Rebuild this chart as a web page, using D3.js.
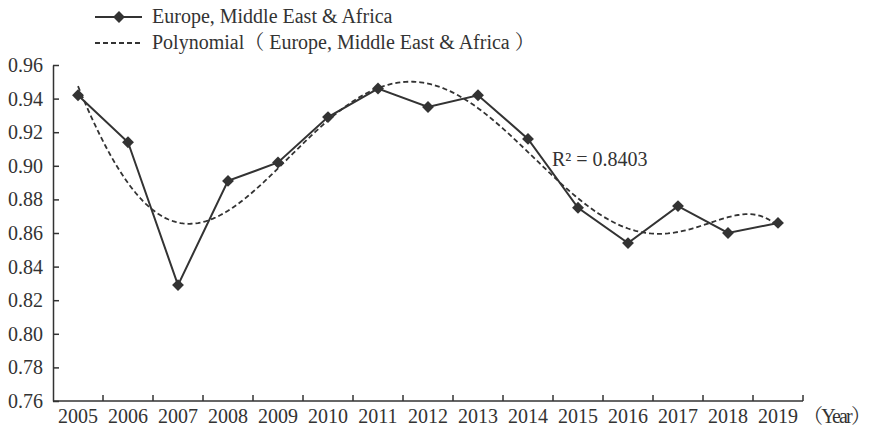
<!DOCTYPE html>
<html><head><meta charset="utf-8">
<script src="https://cdn.jsdelivr.net/npm/d3@7"></script>
<style>body{margin:0;background:#fff}svg{display:block}text{font-family:"Liberation Serif","Noto Serif CJK SC","Noto Sans CJK SC",serif;fill:#333}</style>
</head><body><svg id="c" width="877" height="432"></svg>
<script>
const years = ["2005","2006","2007","2008","2009","2010","2011","2012","2013","2014","2015","2016","2017","2018","2019"];
const values = [0.942,0.914,0.829,0.891,0.902,0.929,0.946,0.935,0.942,0.916,0.875,0.854,0.876,0.860,0.866];
const yTicks = [0.76,0.78,0.80,0.82,0.84,0.86,0.88,0.90,0.92,0.94,0.96];
const seriesName = "Europe, Middle East & Africa";
const trendName = "Polynomial（ Europe, Middle East & Africa ）";
const r2Label = "R² = 0.8403";
const xUnit = "（Year）";
const polyOrder = 6;

const svg = d3.select("#c");
const col = "#333";
const x = d3.scaleBand().domain(years).range([53, 803]);
const y = d3.scaleLinear().domain([0.76, 0.96]).range([401, 65]);

// least squares polynomial trendline (as the chart's trendline)
function polyFit(xs, ys, n) {
  const m = n + 1;
  const A = Array.from({length: m}, () => new Array(m + 1).fill(0));
  for (let k = 0; k < xs.length; k++) {
    for (let i = 0; i < m; i++) {
      for (let j = 0; j < m; j++) A[i][j] += Math.pow(xs[k], i + j);
      A[i][m] += ys[k] * Math.pow(xs[k], i);
    }
  }
  for (let i = 0; i < m; i++) {
    let p = i;
    for (let r = i + 1; r < m; r++) if (Math.abs(A[r][i]) > Math.abs(A[p][i])) p = r;
    [A[i], A[p]] = [A[p], A[i]];
    for (let r = 0; r < m; r++) {
      if (r === i) continue;
      const f = A[r][i] / A[i][i];
      for (let c = i; c <= m; c++) A[r][c] -= f * A[i][c];
    }
  }
  return A.map((row, i) => row[m] / row[i]);
}
const ts = years.map((d, i) => (i - 7) / 7);
const coef = polyFit(ts, values, polyOrder);
const polyAt = t => coef.reduce((s, c, i) => s + c * Math.pow(t, i), 0);
const cx = i => x(years[0]) + x.bandwidth() / 2 + i * x.bandwidth();
const trendPts = d3.range(0, 14.001, 0.05).map(i => [cx(i), y(polyAt((i - 7) / 7))]);

// axes
const yAxis = d3.axisLeft(y).tickValues(yTicks).tickFormat(d3.format(".2f")).tickSizeInner(-6).tickSizeOuter(0).tickPadding(10);
const gy = svg.append("g").attr("transform", "translate(53,0)").call(yAxis);
gy.attr("font-family", null);
gy.selectAll("text").style("font-size", "20px").attr("fill", col);
gy.selectAll("line,path").attr("stroke", col).attr("stroke-width", 1.5);

const gx = svg.append("g").attr("transform", "translate(0,401)");
gx.append("line").attr("x1", 53).attr("x2", 803).attr("stroke", col).attr("stroke-width", 1.5);
gx.selectAll("line.t").data(years).join("line").attr("class", "t")
  .attr("x1", d => x(d) + x.bandwidth()).attr("x2", d => x(d) + x.bandwidth())
  .attr("y1", 0).attr("y2", -6).attr("stroke", col).attr("stroke-width", 1.5);
gx.selectAll("text.l").data(years).join("text").attr("class", "l")
  .attr("x", d => x(d) + x.bandwidth() / 2).attr("y", 22)
  .attr("text-anchor", "middle").style("font-size", "20px").text(d => d);
gx.append("text").attr("x", 803).attr("y", 22).style("font-size", "20px")
  .attr("textLength", 68).attr("lengthAdjust", "spacing").text(xUnit);

// trendline
svg.append("path").attr("d", d3.line()(trendPts)).attr("fill", "none")
  .attr("stroke", col).attr("stroke-width", 1.8).attr("stroke-dasharray", "5,3");

// series
svg.append("path").datum(values)
  .attr("d", d3.line().x((d, i) => x(years[i]) + x.bandwidth() / 2).y(d => y(d)))
  .attr("fill", "none").attr("stroke", col).attr("stroke-width", 2);
const diamond = d3.symbol().type(d3.symbolDiamond2).size(90);
svg.selectAll("path.m").data(values).join("path").attr("class", "m")
  .attr("transform", (d, i) => `translate(${x(years[i]) + x.bandwidth() / 2},${y(d)})`)
  .attr("d", diamond).attr("fill", col);

svg.append("text").attr("x", 552).attr("y", 166).style("font-size", "20px").text(r2Label);

// legend
const lg = svg.append("g");
lg.append("line").attr("x1", 95).attr("x2", 142).attr("y1", 17).attr("y2", 17).attr("stroke", col).attr("stroke-width", 2);
lg.append("path").attr("transform", "translate(119,17)").attr("d", diamond).attr("fill", col);
lg.append("text").attr("x", 152).attr("y", 23).style("font-size", "20px").text(seriesName);
lg.append("line").attr("x1", 95).attr("x2", 142).attr("y1", 43).attr("y2", 43).attr("stroke", col).attr("stroke-width", 1.8).attr("stroke-dasharray", "5,3");
lg.append("text").attr("x", 152).attr("y", 49).style("font-size", "20px").text(trendName);
</script></body></html>
